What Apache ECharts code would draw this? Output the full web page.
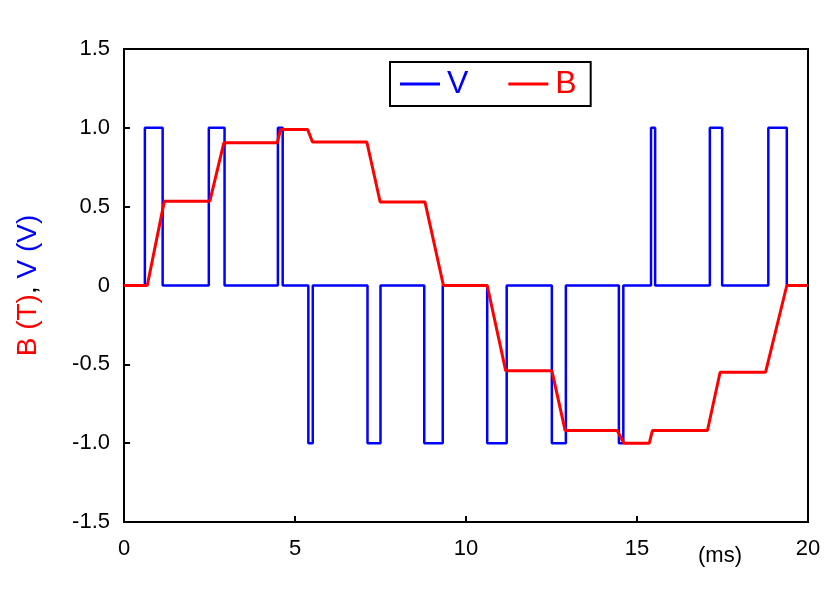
<!DOCTYPE html>
<html><head><meta charset="utf-8">
<script src="https://cdn.jsdelivr.net/npm/echarts@6/dist/echarts.min.js"></script>
<style>html,body{margin:0;padding:0;background:#fff}#c{width:840px;height:598px}</style>
</head><body><div id="c"></div>
<script>
// V: switching times (ms) and level after each switch
const vTimes = [0, 0.61, 1.13, 2.48, 2.94, 4.50, 4.64, 5.39, 5.52, 7.12, 7.50, 8.78, 9.32, 10.62, 11.19, 12.51, 12.92, 14.47, 14.60, 15.41, 15.53, 17.13, 17.49, 18.84, 19.38];
const vLevels = [0, 1, 0, 1, 0, 1, 0, -1, 0, -1, 0, -1, 0, -1, 0, -1, 0, -1, 0, 1, 0, 1, 0, 1, 0];
const vEnd = 19.38;
// B: corner points
const bTimes = [0, 0.68, 1.18, 2.51, 2.92, 4.48, 4.58, 5.37, 5.51, 7.10, 7.49, 8.80, 9.34, 10.62, 11.16, 12.51, 12.90, 14.42, 14.62, 15.36, 15.45, 17.06, 17.43, 18.76, 19.38, 20];
const bValues = [0, 0, 0.535, 0.535, 0.905, 0.905, 0.99, 0.99, 0.91, 0.91, 0.53, 0.53, 0, 0, -0.54, -0.54, -0.92, -0.92, -1.0, -1.0, -0.92, -0.92, -0.55, -0.55, 0, 0];
const xTicks = [0, 5, 10, 15, 20];
const yTicks = [-1.5, -1.0, -0.5, 0, 0.5, 1.0, 1.5];

const vData = [];
for (let i = 0; i < vTimes.length; i++) {
  if (i > 0) vData.push([vTimes[i], vLevels[i - 1]]);
  vData.push([vTimes[i], vLevels[i]]);
}
vData.push([vEnd, vLevels[vLevels.length - 1]]);
const bData = bTimes.map((t, i) => [t, bValues[i]]);

const chart = echarts.init(document.getElementById('c'));
const font = 'Liberation Sans';
chart.setOption({
  animation: false,
  grid: {left: 124, right: 32, top: 49, bottom: 76, show: true, borderColor: '#000', borderWidth: 2, backgroundColor: 'transparent'},
  legend: {
    top: 62, left: 390, width: 210, itemGap: 40, padding: [6, 14, 6, 10],
    borderColor: '#000', borderWidth: 2, itemWidth: 40, itemHeight: 3,
    textStyle: {fontSize: 32, fontFamily: font, padding: [0, 0, 0, 2]},
    icon: 'rect',
    data: [{name: 'V', textStyle: {color: '#0000ff'}}, {name: 'B', textStyle: {color: '#ff0000'}}]
  },
  xAxis: {
    type: 'value', min: 0, max: 20, interval: 5,
    axisLine: {onZero: false, lineStyle: {color: '#000', width: 2}},
    axisTick: {inside: true, length: 6, lineStyle: {color: '#000', width: 2}},
    axisLabel: {fontSize: 22, fontFamily: font, color: '#000', margin: 16},
    splitLine: {show: false}
  },
  yAxis: {
    type: 'value', min: -1.5, max: 1.5, interval: 0.5,
    axisLine: {show: true, lineStyle: {color: '#000', width: 2}},
    axisTick: {show: true, inside: true, length: 6, lineStyle: {color: '#000', width: 2}},
    axisLabel: {fontSize: 22, fontFamily: font, color: '#000', margin: 14,
      formatter: v => v === 0 ? '0' : v.toFixed(1)},
    splitLine: {show: false},
    name: '{r|B (T)}{k|, }{b|V (V)}', nameLocation: 'middle', nameGap: 82, nameRotate: 90,
    nameTextStyle: {fontSize: 28, fontFamily: font,
      rich: {r: {color: '#ff0000', fontSize: 28, fontFamily: font}, k: {color: '#000', fontSize: 28, fontFamily: font}, b: {color: '#0000ff', fontSize: 28, fontFamily: font}}}
  },
  graphic: [{type: 'text', left: 698, top: 545, style: {text: '(ms)', fontSize: 22, fontFamily: font, fill: '#000'}}],
  series: [
    {name: 'V', type: 'line', data: vData, symbol: 'none', lineStyle: {color: '#0000ff', width: 2.5}, itemStyle: {color: '#0000ff'}},
    {name: 'B', type: 'line', data: bData, symbol: 'none', lineStyle: {color: '#ff0000', width: 3}, itemStyle: {color: '#ff0000'}}
  ]
});
</script></body></html>
